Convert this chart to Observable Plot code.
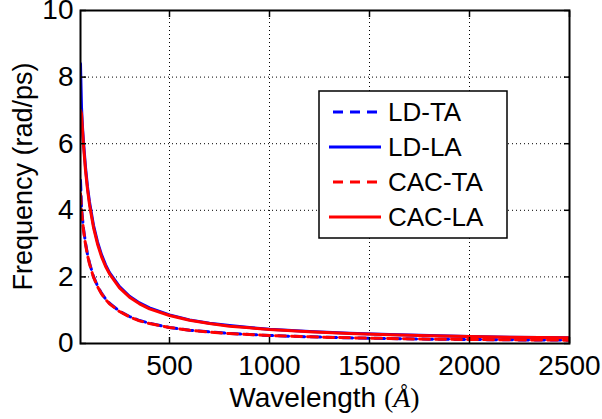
<!DOCTYPE html>
<html>
<head>
<meta charset="utf-8">
<script src="https://cdn.jsdelivr.net/npm/d3@7"></script>
<script src="https://cdn.jsdelivr.net/npm/@observablehq/plot@0.6"></script>
<style>
  html, body { margin: 0; padding: 0; background: #fff; }
  #chart svg { display: block; }
</style>
</head>
<body>
<div id="chart"></div>
<script>
// Wavelength samples (Å)
const wavelength = [55, 60, 65, 70, 80, 90, 100, 120, 140, 160, 180, 200, 250, 300, 350, 400, 500, 600, 700, 800, 900, 1000, 1200, 1400, 1600, 1800, 2000, 2200, 2500];
// Frequencies (rad/ps)
const ldLA  = [8.4, 7.1, 6.5, 6.05, 5.3, 4.7, 4.25, 3.55, 3.05, 2.67, 2.37, 2.13, 1.71, 1.42, 1.22, 1.07, 0.86, 0.71, 0.61, 0.54, 0.48, 0.43, 0.36, 0.31, 0.27, 0.24, 0.21, 0.19, 0.17];
const cacLA = [7.0, 6.9, 6.4, 5.95, 5.2, 4.63, 4.17, 3.48, 2.99, 2.61, 2.32, 2.09, 1.67, 1.39, 1.19, 1.04, 0.84, 0.70, 0.60, 0.52, 0.47, 0.42, 0.35, 0.30, 0.26, 0.23, 0.21, 0.19, 0.17];
const ldTA  = [4.9, 4.1, 3.75, 3.45, 3.02, 2.68, 2.42, 2.01, 1.73, 1.51, 1.34, 1.21, 0.97, 0.81, 0.69, 0.61, 0.48, 0.40, 0.35, 0.30, 0.27, 0.24, 0.20, 0.17, 0.15, 0.13, 0.12, 0.11, 0.10];
const cacTA = [4.5, 4.0, 3.7, 3.4, 2.98, 2.65, 2.39, 1.99, 1.71, 1.49, 1.33, 1.19, 0.96, 0.80, 0.68, 0.60, 0.48, 0.40, 0.34, 0.30, 0.27, 0.24, 0.20, 0.17, 0.15, 0.13, 0.12, 0.11, 0.10];

const xTicks = [500, 1000, 1500, 2000, 2500];
const yTicks = [0, 2, 4, 6, 8, 10];
const yGrid = [2, 4, 6, 8];

const seriesNames = ["LD-TA", "LD-LA", "CAC-TA", "CAC-LA"];
const seriesValues = [ldTA, ldLA, cacTA, cacLA];
const seriesColor = {"LD-TA": "#0000ff", "LD-LA": "#0000ff", "CAC-TA": "#ff0000", "CAC-LA": "#ff0000"};
const seriesDashed = {"LD-TA": true, "LD-LA": false, "CAC-TA": true, "CAC-LA": false};

const rows = seriesNames.flatMap((name, i) =>
  wavelength.map((w, j) => ({series: name, x: w, y: seriesValues[i][j]})));

const font = "'Liberation Sans', Arial, Helvetica, sans-serif";
const W = 602, H = 419;
const mL = 80, mR = 33, mT = 10, mB = 76;
const tickFont = 28;

const lineMarks = seriesNames.map(name =>
  Plot.line(rows.filter(d => d.series === name), {
    x: "x", y: "y",
    stroke: seriesColor[name],
    strokeWidth: 3,
    strokeDasharray: seriesDashed[name] ? "10,6" : null,
    strokeLinejoin: "round",
    clip: true
  }));

const chart = Plot.plot({
  width: W, height: H,
  marginLeft: mL, marginRight: mR, marginTop: mT, marginBottom: mB,
  style: {fontFamily: font, fontSize: tickFont + "px", background: "#fff", overflow: "visible"},
  x: {domain: [55, 2500]},
  y: {domain: [0, 10]},
  marks: [
    Plot.gridX(xTicks, {stroke: "#000", strokeOpacity: 1, strokeWidth: 1, strokeDasharray: "1,3"}),
    Plot.gridY(yGrid, {stroke: "#000", strokeOpacity: 1, strokeWidth: 1, strokeDasharray: "1,3"}),
    ...lineMarks,
    // tick labels
    Plot.axisX({ticks: xTicks, tickSize: 0, tickPadding: 12, fontSize: tickFont, label: null, tickFormat: d => String(d), color: "#000"}),
    Plot.axisY({ticks: yTicks, tickSize: 0, tickPadding: 7, fontSize: tickFont, label: null, tickFormat: d => String(d), color: "#000"}),
    // inward tick marks on all four sides
    Plot.axisX({ticks: xTicks, anchor: "bottom", tickSize: 6, dy: -6, text: null, label: null, strokeWidth: 1.5}),
    Plot.axisX({ticks: xTicks, anchor: "top", tickSize: 6, dy: 6, text: null, label: null, strokeWidth: 1.5}),
    Plot.axisY({ticks: yTicks, anchor: "left", tickSize: 6, dx: 6, text: null, label: null, strokeWidth: 1.5}),
    Plot.axisY({ticks: yTicks, anchor: "right", tickSize: 6, dx: -6, text: null, label: null, strokeWidth: 1.5}),
    Plot.frame({stroke: "#000", strokeWidth: 2})
  ]
});

document.getElementById("chart").appendChild(chart);

const svg = d3.select(chart);
svg.selectAll("text").style("font-family", font);

const plotCx = mL + (W - mL - mR) / 2;
const plotCy = mT + (H - mT - mB) / 2;

// x-axis label with math-style Å
const xl = svg.append("text")
  .attr("x", plotCx).attr("y", 407)
  .attr("text-anchor", "middle")
  .attr("font-family", font).attr("font-size", 28).attr("fill", "#000");
xl.append("tspan").text("Wavelength ");
xl.append("tspan").attr("font-family", "'Liberation Serif', 'DejaVu Serif', serif").text("(");
xl.append("tspan").attr("font-family", "'Liberation Serif', 'DejaVu Serif', serif").attr("font-style", "italic").text("Å");
xl.append("tspan").attr("font-family", "'Liberation Serif', 'DejaVu Serif', serif").text(")");

// y-axis label
svg.append("text")
  .attr("transform", `translate(32,${plotCy}) rotate(-90)`)
  .attr("text-anchor", "middle")
  .attr("font-family", font).attr("font-size", 27).attr("fill", "#000")
  .text("Frequency (rad/ps)");

// legend
const lg = svg.append("g");
lg.append("rect")
  .attr("x", 319).attr("y", 91).attr("width", 188).attr("height", 147)
  .attr("fill", "#fff").attr("stroke", "#000").attr("stroke-width", 1.5);
seriesNames.forEach((name, i) => {
  const cy = 112 + i * 35;
  lg.append("line")
    .attr("x1", seriesDashed[name] ? 333 : 329).attr("x2", 381).attr("y1", cy).attr("y2", cy)
    .attr("stroke", seriesColor[name]).attr("stroke-width", 3)
    .attr("stroke-dasharray", seriesDashed[name] ? "10,7" : null);
  lg.append("text")
    .attr("x", 388).attr("y", cy).attr("dy", "0.36em")
    .attr("text-anchor", "start")
    .attr("font-family", font).attr("font-size", 26).attr("fill", "#000")
    .text(name);
});
</script>
</body>
</html>
